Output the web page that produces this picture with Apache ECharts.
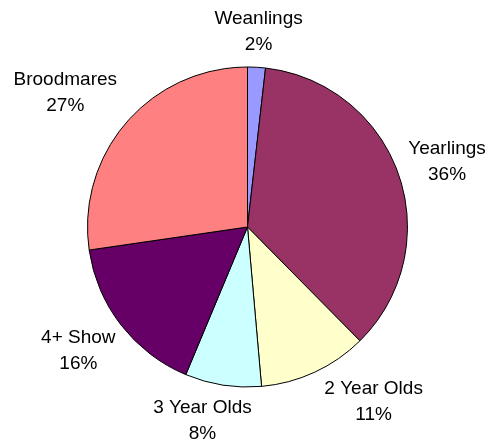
<!DOCTYPE html>
<html>
<head>
<meta charset="utf-8">
<script src="https://cdn.jsdelivr.net/npm/echarts@6/dist/echarts.min.js"></script>
<style>html,body{margin:0;padding:0;background:#fff;}#chart{width:493px;height:444px;}</style>
</head>
<body>
<div id="chart"></div>
<script>
var categories = ['Weanlings', 'Yearlings', '2 Year Olds', '3 Year Olds', '4+ Show', 'Broodmares'];
var values = [1.8, 35.8, 11.0, 7.7, 16.4, 27.3];
var colors = ['#9999FF', '#993366', '#FFFFCC', '#CCFFFF', '#660066', '#FF8080'];

var CX = 247.5, CY = 227, R = 160, GAP = 6;
var labelAngleShift = [0, 1, -10.9, 4.3, 1.5, -4.4];
var labelGapAdjust = [1.5, -1, 0, -4, -1.5, 3.5];

var total = values.reduce(function (a, b) { return a + b; }, 0);
var midAngles = [];
var cum = 0;
for (var i = 0; i < values.length; i++) {
  midAngles.push(360 * (cum + values[i] / 2) / total);
  cum += values[i];
}

var chart = echarts.init(document.getElementById('chart'));
chart.setOption({
  animation: false,
  backgroundColor: '#ffffff',
  series: [{
    type: 'pie',
    center: [CX, CY],
    radius: R,
    startAngle: 90,
    clockwise: true,
    avoidLabelOverlap: false,
    percentPrecision: 0,
    data: categories.map(function (c, i) {
      return { name: c, value: values[i], itemStyle: { color: colors[i] } };
    }),
    itemStyle: { borderColor: '#000', borderWidth: 1 },
    emphasis: { disabled: true },
    label: {
      show: true,
      position: 'outside',
      formatter: '{b}\n{d}%',
      fontFamily: 'Liberation Sans, Arial, sans-serif',
      fontSize: 19,
      lineHeight: 26,
      color: '#000'
    },
    labelLine: { show: false },
    labelLayout: function (p) {
      var k = p.dataIndex;
      var a = (midAngles[k] + labelAngleShift[k]) * Math.PI / 180;
      var ux = Math.sin(a), uy = -Math.cos(a);
      var w = p.labelRect.width, h = p.labelRect.height;
      var ext = Math.abs(ux) * w / 2 + Math.abs(uy) * h / 2;
      var d = R + GAP + labelGapAdjust[k] + ext;
      return { x: CX + ux * d, y: CY + uy * d, align: 'center', verticalAlign: 'middle' };
    }
  }]
});
</script>
</body>
</html>
